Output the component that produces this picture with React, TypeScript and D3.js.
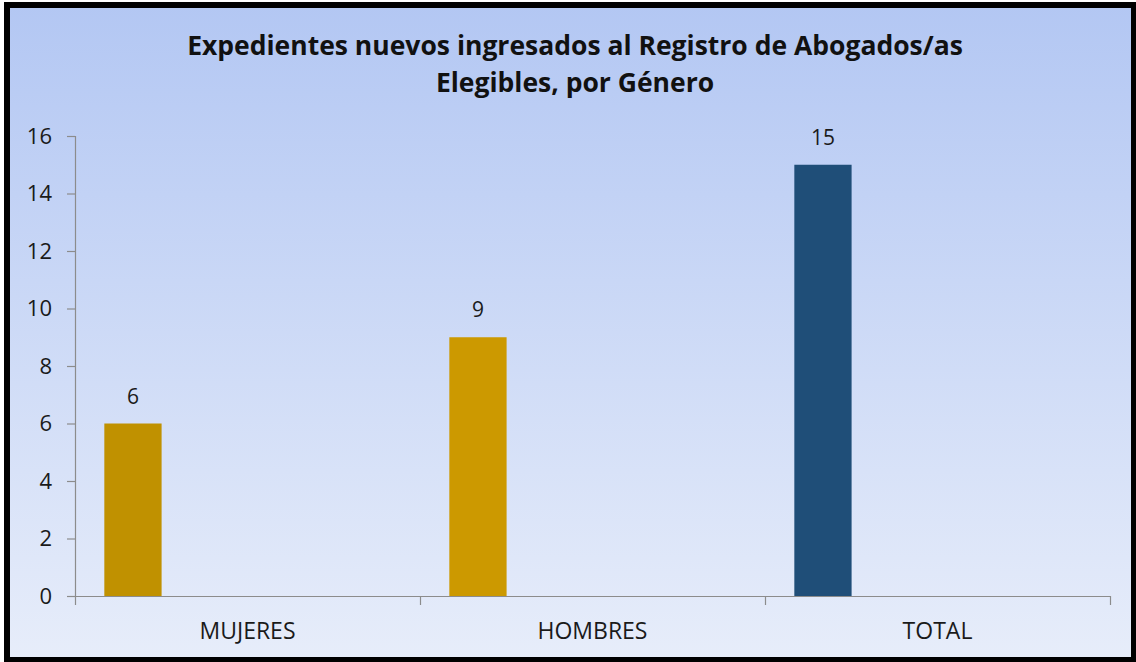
import React from "react";
import * as d3 from "d3";

const categories = ["MUJERES", "HOMBRES", "TOTAL"];
const values = [6, 9, 15];
const barColors = ["#c09100", "#cc9900", "#1f4e78"];
const yTicks = [0, 2, 4, 6, 8, 10, 12, 14, 16];
const titleLines = [
  "Expedientes nuevos ingresados al Registro de Abogados/as",
  "Elegibles, por Género",
];

const W = 1136;
const H = 662;
const FONT = "'Open Sans', 'DejaVu Sans', sans-serif";

export default function App() {
  const x = d3.scaleBand<string>().domain(categories).range([75, 1110]).padding(0);
  const y = d3.scaleLinear().domain([0, 16]).range([596, 136]);
  const bw = x.bandwidth();
  const barOff = bw * 0.085;
  const barW = bw * 0.166;

  return (
    <svg
      width={W}
      height={H}
      style={{ position: "fixed", left: 0, top: 0, display: "block" }}
    >
      <defs>
        <linearGradient id="bg" x1="0" y1="0" x2="0" y2="1">
          <stop offset="0" stopColor="#b3c7f3" />
          <stop offset="1" stopColor="#e7edfa" />
        </linearGradient>
      </defs>
      <rect x={0} y={0} width={W} height={H} fill="#ffffff" />
      <rect x={7} y={5} width={W - 9} height={H - 7} fill="url(#bg)" stroke="#000" strokeWidth={6} />
      {titleLines.map((t, i) => (
        <text
          key={i}
          x={575}
          y={55 + i * 37}
          textAnchor="middle"
          fontFamily={FONT}
          fontWeight="bold"
          fontSize={26.5}
          fill="#111"
        >
          {t}
        </text>
      ))}
      {/* y axis */}
      <line x1={75.5} x2={75.5} y1={y(16)} y2={y(0)} stroke="#8c8c8c" strokeWidth={1.2} />
      {yTicks.map((t) => (
        <g key={t}>
          <line x1={67} x2={75} y1={y(t) + 0.5} y2={y(t) + 0.5} stroke="#8c8c8c" strokeWidth={1.2} />
          <text
            x={52}
            y={y(t)}
            dy="0.36em"
            textAnchor="end"
            fontFamily={FONT}
            fontSize={22}
            fill="#1a1a1a"
          >
            {t}
          </text>
        </g>
      ))}
      {/* bars */}
      {categories.map((c, i) => {
        const bx = (x(c) as number) + barOff;
        return (
          <g key={c}>
            <rect
              x={bx}
              y={y(values[i])}
              width={barW}
              height={y(0) - y(values[i])}
              fill={barColors[i]}
            />
            <text
              x={bx + barW / 2}
              y={y(values[i]) - 20}
              textAnchor="middle"
              fontFamily={FONT}
              fontSize={21}
              fill="#1a1a1a"
            >
              {values[i]}
            </text>
          </g>
        );
      })}
      {/* x axis */}
      <line x1={75} x2={1110} y1={596.5} y2={596.5} stroke="#8c8c8c" strokeWidth={1.2} />
      {[...categories.map((c) => x(c) as number), 1110].map((tx, i) => (
        <line key={i} x1={tx + 0.5} x2={tx + 0.5} y1={596} y2={605} stroke="#8c8c8c" strokeWidth={1.2} />
      ))}
      {categories.map((c) => (
        <text
          key={c}
          x={(x(c) as number) + bw / 2}
          y={639}
          textAnchor="middle"
          fontFamily={FONT}
          fontSize={23}
          fill="#1a1a1a"
        >
          {c}
        </text>
      ))}
    </svg>
  );
}
